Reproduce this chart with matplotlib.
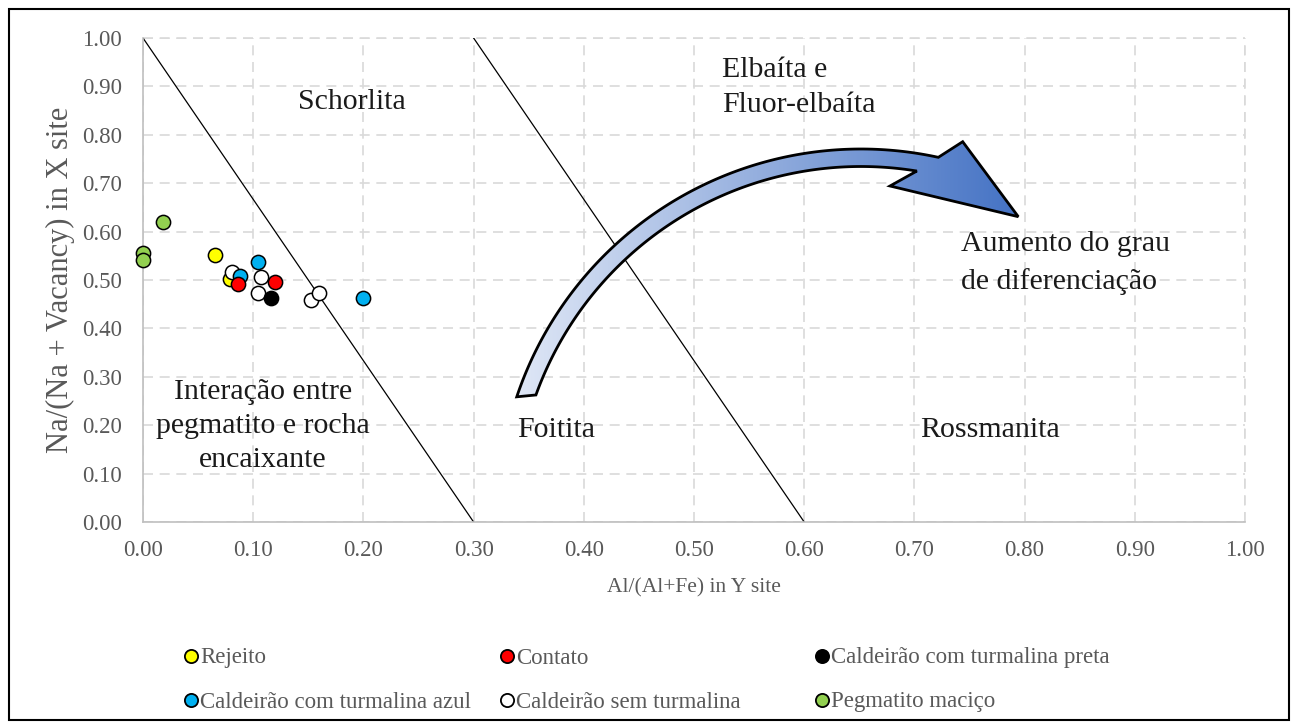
import numpy as np
import matplotlib
matplotlib.use("Agg")
import matplotlib.pyplot as plt
from matplotlib.lines import Line2D
from matplotlib.patches import Polygon, Rectangle

plt.rcParams['font.family'] = ['Liberation Serif', 'DejaVu Serif']

# ---------------- data ----------------
series_names = ["Rejeito", "Contato", "Caldeirão com turmalina preta",
                "Caldeirão com turmalina azul", "Caldeirão sem turmalina", "Pegmatito maciço"]
series_colors = ["#FFFF00", "#FF0000", "#000000", "#00B0F0", "#FFFFFF", "#92D050"]

rejeito_x = [0.065, 0.079]
rejeito_y = [0.552, 0.502]
contato_x = [0.086, 0.120]
contato_y = [0.492, 0.495]
preta_x = [0.116]
preta_y = [0.463]
azul_x = [0.088, 0.104, 0.200]
azul_y = [0.508, 0.537, 0.462]
sem_x = [0.081, 0.107, 0.104, 0.152, 0.160]
sem_y = [0.517, 0.506, 0.474, 0.459, 0.473]
peg_x = [0.018, 0.0, 0.0]
peg_y = [0.620, 0.556, 0.541]

boundary1_x = [0.0, 0.3]
boundary1_y = [1.0, 0.0]
boundary2_x = [0.3, 0.6]
boundary2_y = [1.0, 0.0]

ticks = [round(0.1 * i, 1) for i in range(11)]
tick_labels = [f"{t:.2f}" for t in ticks]

W, H = 1297, 726
fig = plt.figure(figsize=(W / 100, H / 100), dpi=100)
fig.patch.set_facecolor("white")

L, R, T, B = 143, 1245, 38, 522
ax = fig.add_axes([L / W, 1 - B / H, (R - L) / W, (B - T) / H])
ax.set_xlim(0, 1)
ax.set_ylim(0, 1)
ax.set_xticks(ticks)
ax.set_yticks(ticks)
ax.set_xticklabels(tick_labels)
ax.set_yticklabels(tick_labels)
ax.tick_params(length=0, labelsize=16.5, labelcolor="#595959")
ax.tick_params(axis="y", pad=15)
ax.tick_params(axis="x", pad=13)
for s in ["top", "right"]:
    ax.spines[s].set_visible(False)
for s in ["left", "bottom"]:
    ax.spines[s].set_color("#bfbfbf")
    ax.spines[s].set_linewidth(1.2)
ax.grid(True, color="#d9d9d9", linestyle=(0, (6, 4)), linewidth=1.2)
ax.set_axisbelow(True)
ax.axhline(1.0, color="#d9d9d9", linestyle=(0, (6, 4)), linewidth=1.2, zorder=0.5, clip_on=False)
ax.axvline(1.0, color="#d9d9d9", linestyle=(0, (6, 4)), linewidth=1.2, zorder=0.5, clip_on=False)

ax.plot(boundary1_x, boundary1_y, color="black", linewidth=0.9, zorder=2)
ax.plot(boundary2_x, boundary2_y, color="black", linewidth=0.9, zorder=2)

series = [
    (rejeito_x, rejeito_y, 0),
    (sem_x, sem_y, 4),
    (azul_x, azul_y, 3),
    (contato_x, contato_y, 1),
    (preta_x, preta_y, 2),
    (peg_x, peg_y, 5),
]
for k, (xs, ys, ci) in enumerate(series):
    ax.scatter(xs, ys, s=105, facecolor=series_colors[ci], edgecolor="black",
               linewidth=1.1, zorder=5 + k, clip_on=False)

def px(xp): return (xp - L) / (R - L)
def py(yp): return (B - yp) / (B - T)

# axis titles
ax.text(0.5, py(588), "Al/(Al+Fe) in Y site", transform=ax.transAxes,
        ha="center", va="center", fontsize=15.5, color="#595959")
ax.text(px(60), 0.5, "Na/(Na + Vacancy) in X site", transform=ax.transAxes,
        ha="center", va="center", rotation=90, fontsize=22, color="#595959")

# region labels
lab_kw = dict(fontsize=21.5, color="#1a1a1a", zorder=3, transform=ax.transAxes)
ax.text(px(352), py(102), "Schorlita", ha="center", va="center", **lab_kw)
ax.text(px(722), py(87), "Elbaíta e\nFluor-elbaíta", ha="left", va="center", linespacing=1.45, **lab_kw)
ax.text(px(961), py(263), "Aumento do grau\nde diferenciação", ha="left", va="center", linespacing=1.5, **lab_kw)
ax.text(px(263), py(426), "Interação entre\npegmatito e rocha\nencaixante", ha="center", va="center",
        linespacing=1.41, **lab_kw)
ax.text(px(556), py(430), "Foitita", ha="center", va="center", **lab_kw)
ax.text(px(990), py(430), "Rossmanita", ha="center", va="center", **lab_kw)

# overlay axes in pixel coordinates for arrow and frame
ov = fig.add_axes([0, 0, 1, 1], zorder=10)
ov.set_xlim(0, W)
ov.set_ylim(H, 0)
ov.axis("off")
ov.patch.set_alpha(0)

cx, cy = 861.0, 512.0
r_out, r_in = 363.0, 345.5
a_out = np.radians(np.linspace(161.5, 77.7, 120))
a_in = np.radians(np.linspace(80.7, 160.2, 120))
outer = np.column_stack([cx + r_out * np.cos(a_out), cy - r_out * np.sin(a_out)])
inner = np.column_stack([cx + r_in * np.cos(a_in), cy - r_in * np.sin(a_in)])
head = np.array([[962.7, 141.7], [1018.3, 216.7], [890.0, 186.0]])
poly_pts = np.vstack([outer, head, inner])
poly = Polygon(poly_pts, closed=True, facecolor="none", edgecolor="black", linewidth=2.0, zorder=12,
               joinstyle="miter")
ov.add_patch(poly)
clip = Polygon(poly_pts, closed=True, transform=ov.transData)
xmin, xmax = poly_pts[:, 0].min(), poly_pts[:, 0].max()
ymin, ymax = poly_pts[:, 1].min(), poly_pts[:, 1].max()
c0 = np.array([0xdf, 0xe7, 0xf6]) / 255.0
c1 = np.array([0x44, 0x72, 0xc4]) / 255.0
t = np.linspace(0, 1, 256)
grad = (c0[None, :] * (1 - t[:, None]) + c1[None, :] * t[:, None])[None, :, :]
im = ov.imshow(grad, extent=[xmin, xmax, ymax, ymin], aspect="auto", zorder=11, interpolation="bilinear")
im.set_clip_path(clip)
ov.set_xlim(0, W)
ov.set_ylim(H, 0)

# outer frame
ov.add_patch(Rectangle((8.5, 8.5), 1280, 711, fill=False, edgecolor="black", linewidth=1.5, zorder=13))

# legend (manual grid like the original)
leg_x = [191, 507, 822]
leg_y = [656, 700]
for idx, ci in enumerate(range(6)):
    rrow, col = divmod(idx, 3)
    mx, my = leg_x[col], leg_y[rrow]
    ov.add_line(Line2D([mx], [my], marker="o", markersize=9.5, markerfacecolor=series_colors[ci],
                       markeredgecolor="black", markeredgewidth=1.3, linestyle="none", zorder=12))
    ov.text(mx + 9, my + 2, series_names[ci], ha="left", va="center", fontsize=16.5, color="#595959")

fig.savefig("out.png", dpi=100, facecolor="white")
